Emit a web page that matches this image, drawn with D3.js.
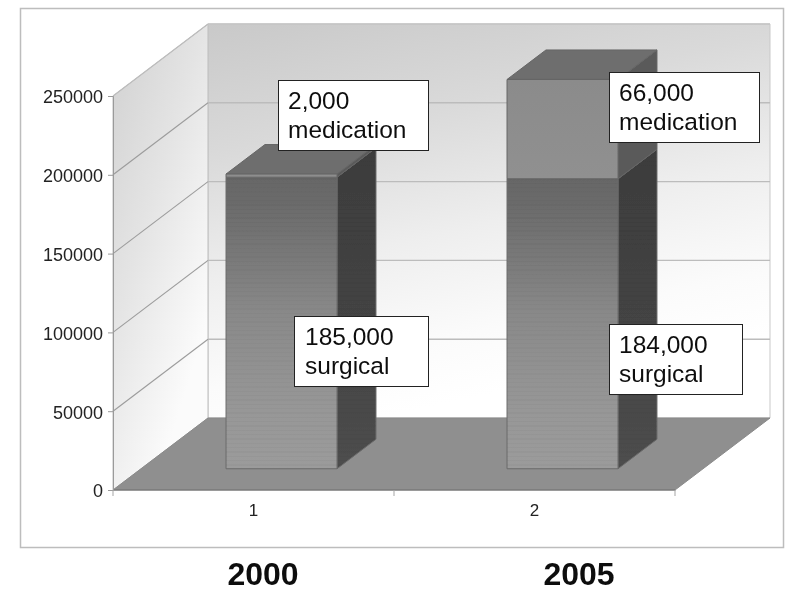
<!DOCTYPE html>
<html><head><meta charset="utf-8">
<script src="https://cdn.jsdelivr.net/npm/d3@7"></script>
<style>html,body{margin:0;padding:0;background:#fff}svg{display:block}text{font-family:"Liberation Sans",Arial,sans-serif}</style>
</head><body><div id="c"></div>
<script>
const categories = ["1", "2"];
const years = ["2000", "2005"];
const surgical = [185000, 184000];
const medication = [2000, 63000];
const yTicks = [0, 50000, 100000, 150000, 200000, 250000];
const calloutLines = [["2,000", "medication"], ["66,000", "medication"], ["185,000", "surgical"], ["184,000", "surgical"]];

const W = 789, H = 592;
const svg = d3.select("#c").append("svg").attr("width", W).attr("height", H);
const defs = svg.append("defs");
function grad(id, stops, x1 = 0, y1 = 0, x2 = 0, y2 = 1) {
  const g = defs.append("linearGradient").attr("id", id)
    .attr("x1", x1).attr("y1", y1).attr("x2", x2).attr("y2", y2);
  stops.forEach(([o, c]) => g.append("stop").attr("offset", o).attr("stop-color", c));
}
grad("wall", [[0, "#c9c9c9"], [0.3, "#d9d9d9"], [0.6, "#eeeeee"], [0.85, "#fbfbfb"], [1, "#ffffff"]], 0, 0, 0.3, 1);
grad("leftWall", [[0, "#d0d0d0"], [0.5, "#e4e4e4"], [1, "#fbfbfb"]], 0, 0, 0.6, 0.9);
grad("surgFront", [[0, "#666666"], [0.15, "#6f6f6f"], [0.3, "#7b7b7b"], [0.45, "#888888"], [0.65, "#919191"], [0.8, "#979797"], [1, "#9b9b9b"]]);
grad("surgSide", [[0, "#3c3c3c"], [0.4, "#424242"], [0.7, "#464646"], [1, "#4e4e4e"]]);
grad("medFront", [[0, "#8b8b8b"], [1, "#909090"]]);
const stripes = defs.append("pattern").attr("id", "stripes").attr("patternUnits", "userSpaceOnUse")
  .attr("width", 8).attr("height", 13);
[[1, 1], [5, 1], [9, 2]].forEach(([sy, sh]) => stripes.append("rect").attr("x", 0).attr("y", sy)
  .attr("width", 8).attr("height", sh).attr("fill", "#000").attr("fill-opacity", 0.025));
defs.append("filter").attr("id", "soft").append("feGaussianBlur").attr("stdDeviation", 0.45);

const root = svg.append("g").attr("filter", "url(#soft)");
root.append("rect").attr("x", 20.5).attr("y", 8.5).attr("width", 763).attr("height", 539)
  .attr("fill", "#fff").attr("stroke", "#bdbdbd").attr("stroke-width", 1.5);

const x = d3.scaleBand().domain(categories).range([113, 675]);
const y = d3.scaleLinear().domain([0, 250000]).range([490, 96]);
const depthX = 95, depthY = 72;
const barW = x.bandwidth() * 0.395;
const z0 = 0.295, z1 = 0.705;
const px = (v, z) => v + depthX * z;
const py = (v, z) => y(v) - depthY * z;
const line = d3.line();

const x0 = x.range()[0], x1 = x.range()[1];
root.append("path").attr("fill", "url(#wall)").attr("stroke", "#c9c9c9")
  .attr("d", line([[px(x0,1),py(0,1)],[px(x1,1),py(0,1)],[px(x1,1),py(250000,1)],[px(x0,1),py(250000,1)]]) + "Z");
root.append("path").attr("fill", "url(#leftWall)").attr("stroke", "#bdbdbd")
  .attr("d", line([[px(x0,0),py(0,0)],[px(x0,1),py(0,1)],[px(x0,1),py(250000,1)],[px(x0,0),py(250000,0)]]) + "Z");
root.append("path").attr("fill", "#8f8f8f").attr("stroke", "#8a8a8a")
  .attr("d", line([[px(x0,0),py(0,0)],[px(x0,1),py(0,1)],[px(x1,1),py(0,1)],[px(x1,0),py(0,0)]]) + "Z");
root.append("line").attr("x1", x0).attr("x2", x1).attr("y1", y(0)).attr("y2", y(0)).attr("stroke", "#7a7a7a").attr("stroke-width", 1.5);

yTicks.slice(1).forEach(t => {
  root.append("path").attr("fill", "none").attr("stroke", t === 250000 ? "#c4c4c4" : "#bcbcbc").attr("stroke-width", 1.4)
    .attr("d", line([[px(x0,1),py(t,1)],[px(x1,1),py(t,1)]]));
  root.append("path").attr("fill", "none").attr("stroke", t === 250000 ? "#bdbdbd" : "#9c9c9c").attr("stroke-width", 1.1)
    .attr("d", line([[px(x0,0),py(t,0)],[px(x0,1),py(t,1)]]));
});

function box(g, cat, lo, hi, front, side, top, edge, striped) {
  const a = x(cat) + (x.bandwidth() - barW) / 2, b = a + barW;
  const sideD = line([[px(b,z0),py(lo,z0)],[px(b,z1),py(lo,z1)],[px(b,z1),py(hi,z1)],[px(b,z0),py(hi,z0)]]) + "Z";
  const frontD = line([[px(a,z0),py(lo,z0)],[px(b,z0),py(lo,z0)],[px(b,z0),py(hi,z0)],[px(a,z0),py(hi,z0)]]) + "Z";
  g.append("path").attr("fill", side).attr("stroke", edge).attr("d", sideD);
  g.append("path").attr("fill", top).attr("stroke", edge)
    .attr("d", line([[px(a,z0),py(hi,z0)],[px(b,z0),py(hi,z0)],[px(b,z1),py(hi,z1)],[px(a,z1),py(hi,z1)]]) + "Z");
  g.append("path").attr("fill", front).attr("stroke", edge).attr("d", frontD);
  if (striped) {
    g.append("path").attr("fill", "url(#stripes)").attr("d", sideD);
    g.append("path").attr("fill", "url(#stripes)").attr("d", frontD);
  }
}
categories.forEach((c, i) => {
  const g = root.append("g");
  box(g, c, 0, surgical[i], "url(#surgFront)", "url(#surgSide)", "#626262", "#6a6a6a", true);
  box(g, c, surgical[i], surgical[i] + medication[i], "url(#medFront)", "#5a5a5a", "#6e6e6e", "#666666", false);
});

const yAxis = d3.axisLeft(y).tickValues(yTicks).tickFormat(d3.format("d")).tickSize(5).tickPadding(5);
const gy = root.append("g").attr("transform", `translate(${x0},0)`).call(yAxis);
const xAxis = d3.axisBottom(x).tickSize(0).tickPadding(14);
const gx = root.append("g").attr("transform", `translate(0,${y(0)})`).call(xAxis);
[gy, gx].forEach(g => {
  g.selectAll(".domain").attr("stroke", "#9a9a9a");
  g.selectAll(".tick line").attr("stroke", "#9a9a9a");
  g.selectAll("text").attr("font-size", 18).attr("fill", "#222").attr("font-family", "Liberation Sans");
});
gy.selectAll("text").attr("dy", "0.38em");
gx.selectAll("text").attr("font-size", 17);
const bandEdges = [x0, x0 + x.step(), x1];
gx.selectAll(".edge").data(bandEdges).join("line").attr("class", "edge")
  .attr("x1", d => d).attr("x2", d => d).attr("y1", 0).attr("y2", 6).attr("stroke", "#a5a5a5");

const boxes = [[278, 80, 150, 70], [609, 72, 150, 70], [294, 316, 134, 70], [609, 324, 133, 70]];
calloutLines.forEach((ls, i) => {
  const [bx, by, bw, bh] = boxes[i];
  root.append("rect").attr("x", bx + .5).attr("y", by + .5).attr("width", bw).attr("height", bh)
    .attr("fill", "#fff").attr("stroke", "#222").attr("stroke-width", 1);
  ls.forEach((t, j) => root.append("text").attr("x", bx + (i === 2 ? 11 : 10)).attr("y", by + 28.5 + j * 29.7)
    .attr("font-size", 24.5).attr("fill", "#111").text(t));
});

const yearCentres = [263, 579];
years.forEach((yr, i) => {
  root.append("text").attr("x", yearCentres[i]).attr("y", 585)
    .attr("text-anchor", "middle").attr("font-size", 32).attr("font-weight", "bold").attr("fill", "#111").text(yr);
});
</script></body></html>
